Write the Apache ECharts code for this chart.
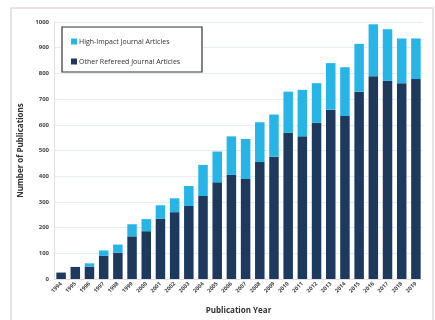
<!DOCTYPE html>
<html>
<head>
<meta charset="utf-8">
<script src="https://cdn.jsdelivr.net/npm/echarts@6/dist/echarts.min.js"></script>
<style>
  html, body { margin: 0; padding: 0; background: #ffffff; }
  #chart { width: 435px; height: 320px; }
</style>
</head>
<body>
<div id="chart"></div>
<script>
// Publication years on the category axis
const years = ['1994','1995','1996','1997','1998','1999','2000','2001','2002','2003','2004','2005','2006',
               '2007','2008','2009','2010','2011','2012','2013','2014','2015','2016','2017','2018','2019'];

// Other refereed journal articles (bottom segment)
const otherRefereed = [25, 47, 48, 90, 102, 166, 186, 235, 260, 284, 323, 376, 405,
                       389, 455, 476, 569, 555, 608, 659, 634, 729, 789, 771, 762, 778];

// High-impact journal articles (stacked on top)
const highImpact = [0, 0, 13, 21, 32, 47, 47, 52, 54, 78, 121, 120, 150,
                    156, 155, 164, 160, 181, 154, 181, 190, 186, 202, 201, 174, 158];

// Value axis tick range
const yTicks = { min: 0, max: 1000, step: 100 };

const FONT = '"Open Sans", "Noto Sans", sans-serif';
const chart = echarts.init(document.getElementById('chart'), null, { renderer: 'canvas' });

chart.setOption({
  backgroundColor: '#ffffff',
  animation: false,
  textStyle: { fontFamily: FONT },
  graphic: [
    {
      type: 'rect',
      shape: { x: 11, y: 8, width: 422, height: 330 },
      style: { fill: 'none', stroke: '#e2dcd8', lineWidth: 1.5 },
      silent: true
    },
    {
      type: 'rect',
      shape: { x: 62, y: 27, width: 140, height: 45 },
      style: { fill: '#ffffff', stroke: '#333333', lineWidth: 1.2 },
      z: 10,
      silent: true
    }
  ],
  legend: {
    left: 66,
    top: 33,
    orient: 'vertical',
    itemGap: 13,
    itemWidth: 6,
    itemHeight: 6,
    icon: 'rect',
    z: 20,
    textStyle: { fontSize: 7, color: '#333333', fontFamily: FONT, padding: [0, 0, 0, -3] },
    data: ['High-Impact Journal Articles', 'Other Refereed Journal Articles']
  },
  grid: { left: 54, right: 12, top: 22, bottom: 41, containLabel: false },
  xAxis: {
    type: 'category',
    data: years,
    name: 'Publication Year',
    nameLocation: 'middle',
    nameGap: 28,
    nameTextStyle: { fontSize: 8, fontWeight: 'bold', color: '#333333', fontFamily: FONT },
    axisLine: { show: true, lineStyle: { color: '#e6e0dc', width: 1 } },
    axisTick: { show: false },
    axisLabel: {
      rotate: 45,
      interval: 0,
      fontSize: 5.5,
      fontWeight: 'bold',
      color: '#444444',
      margin: 4,
      fontFamily: FONT
    }
  },
  yAxis: {
    type: 'value',
    min: yTicks.min,
    max: yTicks.max,
    interval: yTicks.step,
    name: 'Number of Publications',
    nameLocation: 'middle',
    nameGap: 27,
    nameRotate: 90,
    nameTextStyle: { fontSize: 8, fontWeight: 'bold', color: '#333333', fontFamily: FONT },
    axisLine: { show: true, lineStyle: { color: '#e6e0dc', width: 1 } },
    axisTick: { show: false },
    axisLabel: {
      fontSize: 6,
      fontWeight: 'bold',
      color: '#444444',
      margin: 5,
      fontFamily: FONT,
      formatter: (v) => String(v)
    },
    splitLine: { show: true, lineStyle: { color: '#e3eef6', width: 1 } }
  },
  series: [
    {
      name: 'Other Refereed Journal Articles',
      type: 'bar',
      stack: 'pubs',
      data: otherRefereed,
      barWidth: 9.5,
      itemStyle: { color: '#1d3a5e' }
    },
    {
      name: 'High-Impact Journal Articles',
      type: 'bar',
      stack: 'pubs',
      data: highImpact,
      barWidth: 9.5,
      itemStyle: { color: '#27b4e6' }
    }
  ]
});
</script>
</body>
</html>
